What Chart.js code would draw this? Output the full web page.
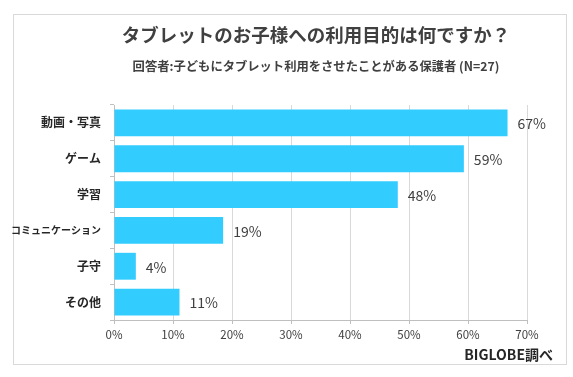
<!DOCTYPE html>
<html><head><meta charset="utf-8">
<script src="https://cdn.jsdelivr.net/npm/chart.js@4/dist/chart.umd.min.js"></script>
<style>html,body{margin:0;padding:0;background:#fff}#wrap{width:573px;height:377px;position:relative}</style>
</head><body><div id="wrap"><canvas id="c" width="573" height="377"></canvas></div>
<script>
const categories = ['動画・写真', 'ゲーム', '学習', 'コミュニケーション', '子守', 'その他'];
const values = [66.7, 59.3, 48.1, 18.5, 3.7, 11.1];
const valueLabels = ['67%', '59%', '48%', '19%', '4%', '11%'];
const xTicks = [0, 10, 20, 30, 40, 50, 60, 70];
const titleText = 'タブレットのお子様への利用目的は何ですか？';
const subtitleText = '回答者:子どもにタブレット利用をさせたことがある保護者 (N=27)';
const sourceText = 'BIGLOBE調べ';

const JP = '"Noto Sans CJK JP", "Noto Sans", sans-serif';

const decor = {
  id: 'decor',
  beforeDraw(chart) {
    const ctx = chart.ctx;
    ctx.save();
    ctx.fillStyle = '#fff';
    ctx.fillRect(0, 0, chart.width, chart.height);
    ctx.strokeStyle = '#d9d9d9';
    ctx.lineWidth = 1;
    ctx.strokeRect(13.5, 14.5, 553, 350);
    ctx.restore();
  },
  afterDraw(chart) {
    const ctx = chart.ctx;
    ctx.save();
    ctx.fillStyle = '#404040';
    ctx.textBaseline = 'middle';
    ctx.textAlign = 'center';
    ctx.font = 'bold 18.5px ' + JP;
    ctx.fillText(titleText, 316, 35);
    ctx.font = 'bold 12.3px ' + JP;
    ctx.fillText(subtitleText, 316, 66);
    ctx.textAlign = 'right';
    ctx.font = 'bold 14px ' + JP;
    ctx.fillStyle = '#262626';
    ctx.fillText(sourceText, 553, 355);
    // value labels
    const meta = chart.getDatasetMeta(0);
    ctx.textAlign = 'left';
    ctx.font = '14px ' + JP;
    ctx.fillStyle = '#404040';
    meta.data.forEach((bar, i) => {
      ctx.fillText(valueLabels[i], bar.x + 10, bar.y + 1);
    });
    ctx.restore();
  }
};

new Chart(document.getElementById('c'), {
  type: 'bar',
  data: {
    labels: categories,
    datasets: [{
      data: values,
      backgroundColor: '#33CCFF',
      borderColor: '#33CCFF',
      borderWidth: 0,
      barPercentage: 0.75,
      categoryPercentage: 1.0
    }]
  },
  options: {
    indexAxis: 'y',
    responsive: false,
    animation: false,
    devicePixelRatio: 1,
    layout: { padding: { left: 0, top: 105, right: 46, bottom: 0 } },
    plugins: { legend: { display: false }, tooltip: { enabled: false } },
    scales: {
      x: {
        min: 0, max: 70,
        afterBuildTicks(scale) { scale.ticks = xTicks.map(v => ({ value: v })); },
        afterFit(scale) { scale.height = 57; },
        ticks: {
          callback: v => v + '%',
          color: '#404040',
          font: { family: JP, size: 11.5 },
          padding: 4,
          maxRotation: 0
        },
        grid: { color: '#d9d9d9', tickLength: 4, tickColor: '#bfbfbf' },
        border: { color: '#bfbfbf' }
      },
      y: {
        afterFit(scale) { scale.width = 114; },
        ticks: {
          color: '#262626',
          font: ctx => ({ family: JP, size: ctx.index === 3 ? 10 : 12, weight: 'bold' }),
          padding: 9
        },
        grid: { drawOnChartArea: false, offset: true, tickLength: 4, tickColor: '#bfbfbf' },
        border: { color: '#bfbfbf' }
      }
    }
  },
  plugins: [decor]
});
</script></body></html>
